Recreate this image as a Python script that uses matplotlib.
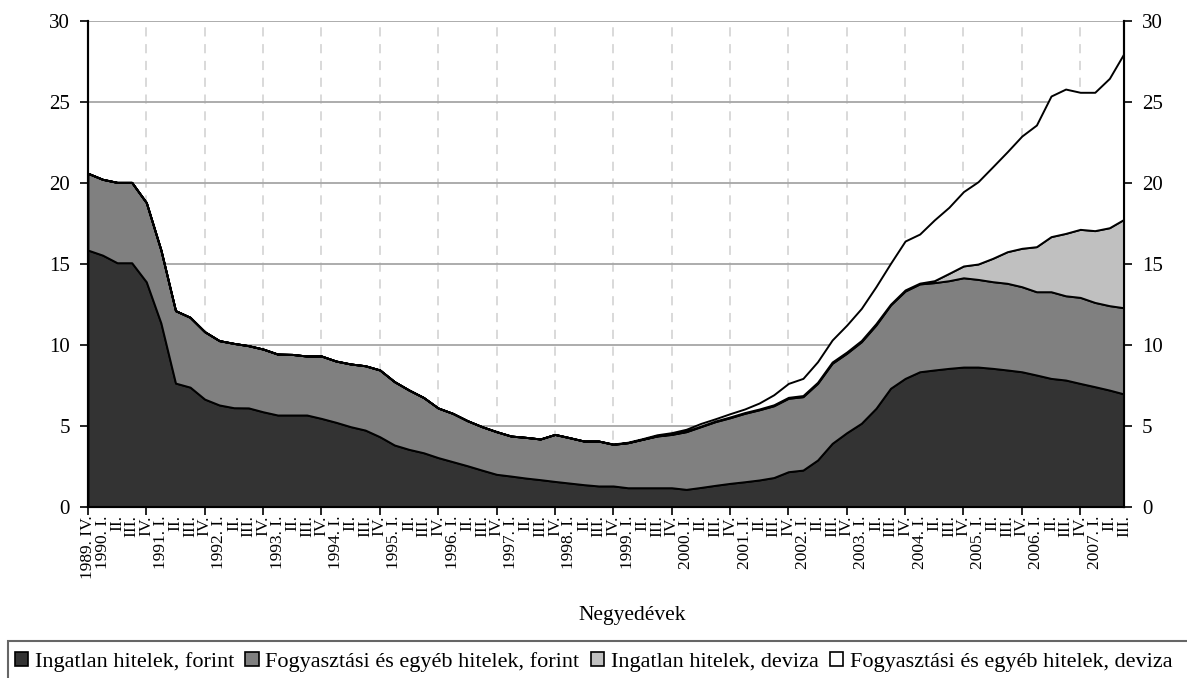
import numpy as np
import matplotlib
matplotlib.use("Agg")
import matplotlib.pyplot as plt
from matplotlib.patches import Patch, Rectangle

plt.rcParams['font.family'] = ['Liberation Serif', 'DejaVu Serif']

# negyedevek 1989.IV - 2007.III
years = list(range(1990, 2008))
quarters = ['1989. IV.']
for y in years:
    for q in ['I.', 'II.', 'III.', 'IV.']:
        if y == 2007 and q == 'IV.':
            break
        quarters.append(f'{y}. {q}' if q == 'I.' else q)

ingatlan_ft = [15.86, 15.55, 15.08, 15.08, 13.9, 11.36, 7.65, 7.4, 6.66, 6.3,
               6.13, 6.12, 5.88, 5.68, 5.68, 5.68, 5.47, 5.23, 4.96, 4.75,
               4.34, 3.83, 3.56, 3.35, 3.05, 2.8, 2.55, 2.28, 2.02, 1.91,
               1.79, 1.69, 1.58, 1.48, 1.38, 1.3, 1.3, 1.19, 1.19, 1.19,
               1.19, 1.09, 1.21, 1.34, 1.46, 1.56, 1.67, 1.82, 2.18, 2.28,
               2.9, 3.93, 4.59, 5.17, 6.09, 7.33, 7.94, 8.35, 8.46, 8.56,
               8.64, 8.64, 8.56, 8.46, 8.35, 8.15, 7.94, 7.84, 7.63, 7.43,
               7.22, 6.98]
fogyasztasi_ft = [4.74, 4.68, 4.96, 4.96, 4.89, 4.5, 4.47, 4.31, 4.16, 3.97,
                  3.97, 3.84, 3.87, 3.76, 3.74, 3.64, 3.85, 3.78, 3.87, 3.97,
                  4.12, 3.91, 3.66, 3.41, 3.06, 2.98, 2.78, 2.68, 2.63, 2.47,
                  2.51, 2.51, 2.9, 2.8, 2.69, 2.77, 2.57, 2.78, 2.99, 3.19,
                  3.29, 3.56, 3.75, 3.93, 4.05, 4.22, 4.33, 4.43, 4.53, 4.53,
                  4.73, 4.94, 4.9, 5.03, 5.14, 5.14, 5.39, 5.42, 5.39, 5.41,
                  5.51, 5.41, 5.35, 5.35, 5.25, 5.14, 5.35, 5.2, 5.31, 5.2,
                  5.21, 5.32]
ingatlan_dev = [0] * 39 + [0.02, 0.03, 0.03, 0.04, 0.04, 0.05, 0.05, 0.05,
                           0.06, 0.06, 0.07, 0.07, 0.08, 0.08, 0.08, 0.09,
                           0.05, 0.07, 0.05, 0.12, 0.45, 0.73, 0.95, 1.44,
                           1.95, 2.37, 2.78, 3.4, 3.85, 4.2, 4.43, 4.81, 5.46]
fogyasztasi_dev = [0] * 36 + [0.02, 0.03, 0.04, 0.06, 0.08, 0.12, 0.16, 0.14,
                              0.2, 0.22, 0.37, 0.62, 0.86, 1.06, 1.27, 1.36,
                              1.66, 1.98, 2.28, 2.52, 3.02, 3.03, 3.75, 4.08,
                              4.59, 5.08, 5.65, 6.17, 6.93, 7.51, 8.68, 8.91,
                              8.46, 8.54, 9.22, 10.24]

labels = ['Ingatlan hitelek, forint', 'Fogyasztási és egyéb hitelek, forint',
          'Ingatlan hitelek, deviza', 'Fogyasztási és egyéb hitelek, deviza']
colors = ['#333333', '#808080', '#c0c0c0', '#ffffff']

x = np.arange(len(quarters))

fig = plt.figure(figsize=(11.87, 6.78), dpi=100)
ax = fig.add_axes([0.0741, 0.2522, 0.8728, 0.7168])

ax.stackplot(x, ingatlan_ft, fogyasztasi_ft, ingatlan_dev, fogyasztasi_dev,
             colors=colors, edgecolor='black', linewidth=1.4, zorder=3)

ax.set_xlim(0, len(quarters) - 1)
ax.set_ylim(0, 30)
ax.set_yticks(range(0, 31, 5))
ax.tick_params(axis='y', labelsize=15, direction='out', length=6, width=1.2, pad=7)

# racs
ax.grid(axis='y', color='#a6a6a6', linewidth=1.3, zorder=1)
for xi in range(4, len(quarters), 4):
    ax.axvline(xi, color='#cfcfcf', linestyle=(0, (6, 5)), linewidth=1.1, zorder=1)

ax.xaxis.remove_overlapping_locs = False
ax.set_xticks(range(0, len(quarters), 4))
ax.set_xticklabels([])
ax.tick_params(axis='x', which='major', direction='out', length=6, width=1.2)
ax.set_xticks(x, minor=True)
ax.set_xticklabels(quarters, minor=True, rotation=90, fontsize=12.5)
ax.tick_params(axis='x', which='minor', length=0, pad=6)

fig.text(632 / 1187, 1 - 620 / 678, 'Negyedévek', fontsize=15.5,
         ha='center', va='baseline')

ax2 = ax.twinx()
ax2.set_ylim(0, 30)
ax2.set_yticks(range(0, 31, 5))
ax2.tick_params(axis='y', labelsize=15, direction='out', length=6, width=1.2, pad=7)

for a in (ax, ax2):
    for s in a.spines.values():
        s.set_color('black')
        s.set_linewidth(1.5)
    a.spines['top'].set_visible(False)

# jelmagyarazat kerete
fig.patches.append(Rectangle((8 / 1187, -0.05), 1.0, 1 - 641 / 678 + 0.05,
                             transform=fig.transFigure, fill=False,
                             edgecolor='#666666', linewidth=1.5))

handles = [Patch(facecolor=c, edgecolor='black', linewidth=1.2) for c in colors]
leg = fig.legend(handles, labels, loc='center left',
                 bbox_to_anchor=(15 / 1187, 1 - 662 / 678),
                 ncol=4, fontsize=16, frameon=False,
                 handlelength=0.6, handleheight=0.6, handletextpad=0.3,
                 columnspacing=0.5, borderpad=0.0, borderaxespad=0.0)

fig.savefig('out.png', dpi=100)
